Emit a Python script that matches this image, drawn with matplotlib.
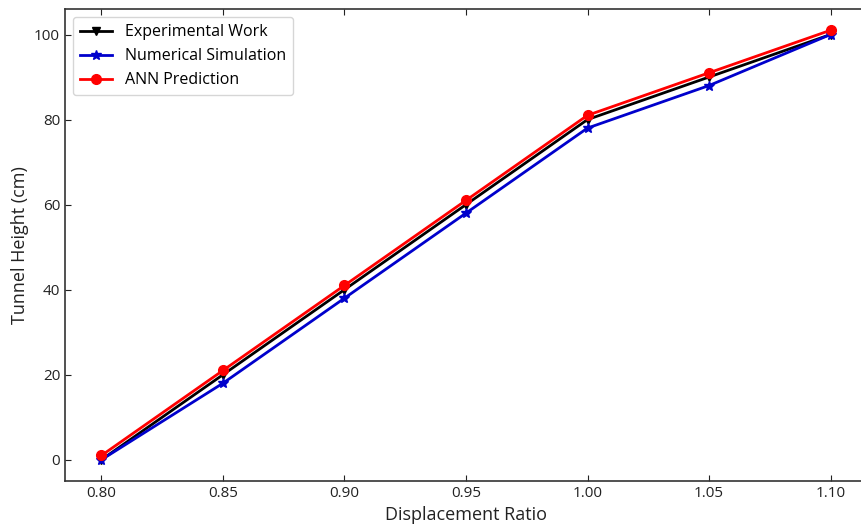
import matplotlib
matplotlib.use("Agg")
import matplotlib.pyplot as plt

plt.rcParams['font.family'] = ['Open Sans', 'DejaVu Sans']

ratio = [0.80, 0.85, 0.90, 0.95, 1.00, 1.05, 1.10]
experimental = [0, 20, 40, 60, 80, 90, 100]
numerical = [0, 18, 38, 58, 78, 88, 100]
ann = [1, 21, 41, 61, 81, 91, 101]
xticks = [0.80, 0.85, 0.90, 0.95, 1.00, 1.05, 1.10]
yticks = [0, 20, 40, 60, 80, 100]

fig = plt.figure(figsize=(8.61, 5.29), dpi=100)
ax = fig.add_axes([65/861, 1-481/529, (867-65)/861, (481-9)/529])

ax.plot(ratio, experimental, color='black', marker='v', markersize=6, linewidth=2, label='Experimental Work')
ax.plot(ratio, numerical, color='#0000cc', marker='*', markersize=7, linewidth=2, label='Numerical Simulation')
ax.plot(ratio, ann, color='red', marker='o', markersize=7, linewidth=2, label='ANN Prediction')

ax.set_xlim(0.785, 1.115)
ax.set_ylim(-5, 106)
ax.set_xticks(xticks)
ax.set_xticklabels([f"{v:.2f}" for v in xticks])
ax.set_yticks(yticks)
ax.tick_params(direction='in', top=True, right=True, labelsize=11, colors='#222222', length=4)
for s in ax.spines.values():
    s.set_color('#333333')
    s.set_linewidth(1.2)

ax.set_xlabel('Displacement Ratio', fontsize=13, color='#222222')
ax.set_ylabel('Tunnel Height (cm)', fontsize=13, color='#222222')

ax.legend(loc='upper left', fontsize=11.5, frameon=True, handlelength=2, borderpad=0.45, labelspacing=0.5)

fig.savefig('out.png', dpi=100)
